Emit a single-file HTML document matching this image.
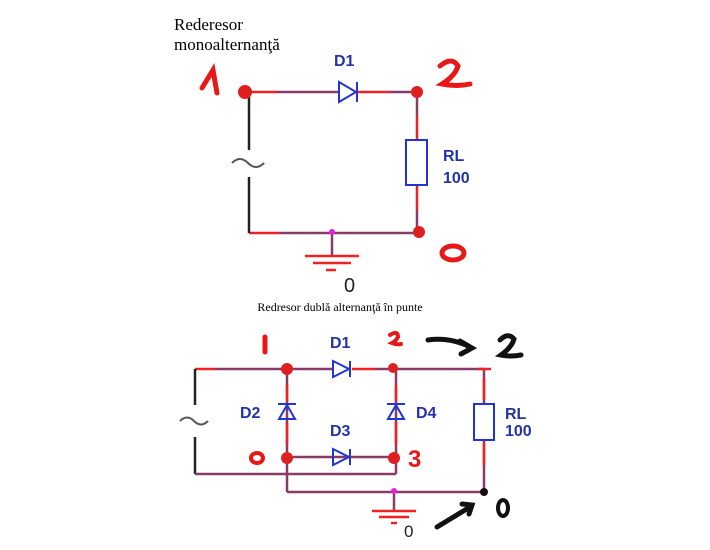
<!DOCTYPE html>
<html><head><style>
body{margin:0;background:#fff;width:710px;height:550px;overflow:hidden}
svg{display:block}
.w{stroke:#8a3a66;stroke-width:2.5;fill:none}
.r{stroke:#ee2222;stroke-width:2.5;fill:none}
.k{stroke:#222;stroke-width:2.5;fill:none}
.b{stroke:#2233dd;stroke-width:2;fill:none}
.bt{font-family:"Liberation Sans",sans-serif;font-weight:bold;fill:#2233aa;font-size:16px}
.hr{font-family:"Liberation Sans",sans-serif;font-weight:bold;fill:#e81818}
.hk{font-family:"Liberation Sans",sans-serif;font-weight:bold;fill:#111}
</style></head><body>
<svg width="710" height="550" viewBox="0 0 710 550">
<text x="174" y="30" font-family="Liberation Serif,serif" font-size="17">Rederesor</text>
<text x="174" y="50" font-family="Liberation Serif,serif" font-size="17">monoalternanţă</text>
<!-- top circuit -->
<line class="r" x1="247" y1="92" x2="277" y2="92"/><line class="w" x1="277" y1="92" x2="338" y2="92"/>
<line class="r" x1="358" y1="92" x2="390" y2="92"/><line class="w" x1="390" y1="92" x2="417" y2="92"/>
<line class="w" x1="417" y1="92" x2="417" y2="115"/><line class="r" x1="417" y1="115" x2="417" y2="140"/>
<line class="r" x1="417" y1="185" x2="417" y2="210"/><line class="w" x1="417" y1="210" x2="417" y2="233"/>
<line class="r" x1="249" y1="233" x2="280" y2="233"/><line class="w" x1="280" y1="233" x2="417" y2="233"/>
<line class="k" x1="249" y1="95" x2="249" y2="150"/><line class="k" x1="249" y1="177" x2="249" y2="233"/>
<path d="M232 163 q8 -8 16 0 t16 0" stroke="#555" stroke-width="2" fill="none"/>
<line class="w" x1="332" y1="233" x2="332" y2="255"/>
<line class="r" x1="305" y1="256" x2="359" y2="256"/>
<line class="r" x1="313" y1="263" x2="351" y2="263"/>
<line class="r" x1="326" y1="270" x2="336" y2="270"/>
<circle cx="332" cy="232" r="3" fill="#e020e0"/>
<text x="344" y="292" font-family="Liberation Sans,sans-serif" font-size="20" fill="#222">0</text>
<path class="b" d="M339 82 L339 102 L356 92 Z M357 82 L357 102"/>
<text class="bt" x="334" y="66">D1</text>
<rect x="406" y="140" width="21" height="45" class="b"/>
<text class="bt" x="443" y="161" font-size="19">RL</text>
<text class="bt" x="443" y="183" font-size="19">100</text>
<circle cx="245" cy="92" r="7" fill="#e02020"/><circle cx="417" cy="92" r="6" fill="#e02020"/><circle cx="419" cy="232" r="6" fill="#e02020"/>
<path d="M202 88 L213 70 L217 93" stroke="#e81818" stroke-width="5" fill="none" stroke-linecap="round"/>
<path d="M440 66 q12 -10 18 0 q-3 10 -16 18 q15 3 28 0" stroke="#e81818" stroke-width="5" fill="none" stroke-linecap="round"/>
<ellipse cx="453" cy="253" rx="11" ry="7" stroke="#e81818" stroke-width="5" fill="none"/>
<!-- bottom -->
<text x="340" y="311" text-anchor="middle" font-family="Liberation Serif,serif" font-size="12">Redresor dublă alternanţă în punte</text>
<line class="r" x1="195" y1="369" x2="215" y2="369"/><line class="w" x1="215" y1="369" x2="333" y2="369"/>
<line class="r" x1="352" y1="369" x2="375" y2="369"/><line class="w" x1="375" y1="369" x2="484" y2="369"/>
<line class="k" x1="195" y1="369" x2="195" y2="405"/><line class="k" x1="195" y1="437" x2="195" y2="474"/>
<path d="M180 421 q7 -7 14 0 t14 0" stroke="#555" stroke-width="2" fill="none"/>
<line class="w" x1="195" y1="474" x2="396" y2="474"/>
<line class="w" x1="287" y1="369" x2="287" y2="492"/>
<line class="w" x1="396" y1="369" x2="396" y2="474"/>
<line class="r" x1="287" y1="385" x2="287" y2="402"/><line class="r" x1="287" y1="422" x2="287" y2="445"/>
<line class="r" x1="396" y1="385" x2="396" y2="402"/><line class="r" x1="396" y1="422" x2="396" y2="445"/>
<line class="w" x1="287" y1="457" x2="396" y2="457"/>
<line class="w" x1="287" y1="492" x2="484" y2="492"/>
<line class="w" x1="484" y1="369" x2="484" y2="403"/><line class="r" x1="484" y1="378" x2="484" y2="400"/>
<line class="w" x1="484" y1="440" x2="484" y2="492"/><line class="r" x1="484" y1="443" x2="484" y2="465"/>
<line class="r" x1="478" y1="369" x2="491" y2="369" stroke-width="4"/>
<rect x="474" y="404" width="20" height="36" class="b"/>
<text class="bt" x="505" y="419" font-size="15">RL</text>
<text class="bt" x="505" y="436" font-size="15">100</text>
<path class="b" d="M333 361 L333 377 L349 369 Z M350 361 L350 377"/>
<path class="b" d="M333 449 L333 465 L349 457 Z M350 449 L350 465"/>
<path class="b" d="M279 419 L295 419 L287 405 Z M278 404 L296 404"/>
<path class="b" d="M388 419 L404 419 L396 405 Z M387 404 L405 404"/>
<text class="bt" x="330" y="348" font-size="14">D1</text>
<text class="bt" x="330" y="436" font-size="14">D3</text>
<text class="bt" x="240" y="418" font-size="14">D2</text>
<text class="bt" x="416" y="418" font-size="14">D4</text>
<line class="w" x1="394" y1="492" x2="394" y2="511"/>
<line class="r" x1="372" y1="511" x2="416" y2="511"/>
<line class="r" x1="379" y1="517" x2="409" y2="517"/>
<line class="r" x1="391" y1="523" x2="397" y2="523"/>
<circle cx="394" cy="491" r="3" fill="#e020e0"/>
<text x="404" y="537" font-family="Liberation Sans,sans-serif" font-size="17" fill="#222">0</text>
<circle cx="287" cy="369" r="6" fill="#e02020"/><circle cx="393" cy="368" r="5" fill="#e02020"/>
<circle cx="287" cy="458" r="6" fill="#e02020"/><circle cx="394" cy="458" r="6" fill="#e02020"/>
<circle cx="484" cy="492" r="4" fill="#111"/>
<path d="M265 337 L265 352" stroke="#e81818" stroke-width="5" stroke-linecap="round"/>
<path d="M390 335 q8 -5 8 2 q-2 4 -6 6 q5 2 9 1" stroke="#e81818" stroke-width="4" fill="none" stroke-linecap="round"/>
<ellipse cx="257" cy="458" rx="6" ry="5" stroke="#e81818" stroke-width="4" fill="none"/>
<text class="hr" x="408" y="467" font-size="24">3</text>
<path d="M428 340 Q450 337 470 347 M460 341 L472 348 L461 354" stroke="#111" stroke-width="5" fill="none" stroke-linecap="round"/>
<path d="M500 340 q8 -8 14 -1 q-2 8 -13 16 q10 2 20 0" stroke="#111" stroke-width="5" fill="none" stroke-linecap="round"/>
<path d="M437 527 L470 507 M462 504 L472 505 L469 514" stroke="#111" stroke-width="5" fill="none" stroke-linecap="round"/>
<ellipse cx="503" cy="508" rx="5" ry="8" stroke="#111" stroke-width="4" fill="none"/>
</svg>
</body></html>
